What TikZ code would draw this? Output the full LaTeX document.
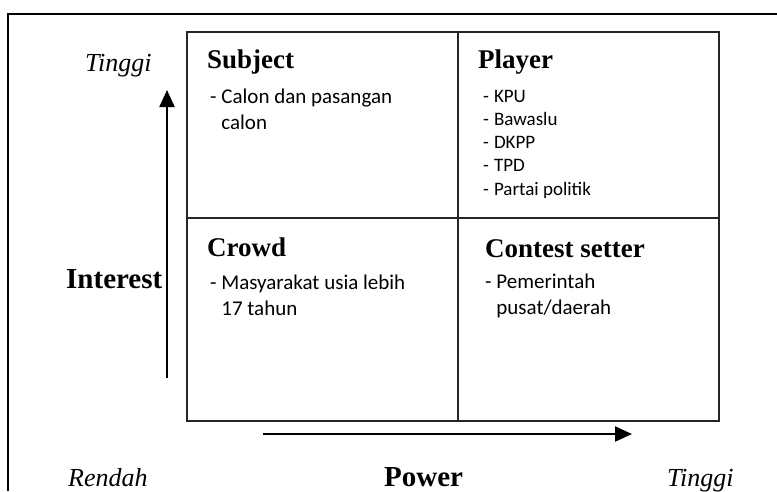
\documentclass[tikz,border=0pt]{standalone}
\usepackage{fontspec}
\setmainfont{Liberation Serif}
\newfontfamily\bodyfont{Carlito}
\usetikzlibrary{arrows.meta}
\begin{document}
\begin{tikzpicture}[x=1pt, y=-1pt,
    cell/.style={draw=black!85, line width=1.6pt, anchor=north west, inner sep=0, outer sep=0},
    head/.style={font=\fontsize{27}{30}\selectfont\bfseries, anchor=base west, inner sep=0},
    axislabel/.style={font=\fontsize{29}{32}\selectfont\bfseries, anchor=base west, inner sep=0},
    endlabel/.style={font=\fontsize{26}{30}\selectfont\itshape, anchor=base west, inner sep=0},
    item/.style={font=\bodyfont\fontsize{21}{26.5}\selectfont, align=left, anchor=base west, inner sep=0},
    smallitem/.style={font=\bodyfont\fontsize{19}{23}\selectfont, anchor=base west, inner sep=0},
    axis/.style={line width=2.2pt, -{Triangle[length=17pt, width=15pt]}}]
\useasboundingbox (0,0) rectangle (777,491);
% outer frame (cut off at the right and bottom)
\draw[line width=1.5pt] (8,491) -- (8,14) -- (777,14);
% the four quadrants
\node[cell, minimum width=271pt, minimum height=186pt] (subject) at (187,32) {};
\node[cell, minimum width=261pt, minimum height=186pt] (player) at (458,32) {};
\node[cell, minimum width=271pt, minimum height=203pt] (crowd) at (187,218) {};
\node[cell, minimum width=261pt, minimum height=203pt] (setter) at (458,218) {};
\node[head] (subjecthead) at (207,68) {Subject};
\node[head] (playerhead) at (478,68) {Player};
\node[head] (crowdhead) at (207,256) {Crowd};
\node[head] (setterhead) at (485,257) {Contest setter};
% base of a two-line node sits on its last line
\node[item] (subjecttext) at (210,129.5) {- Calon dan pasangan\\\phantom{- }calon};
\node[item] (crowdtext) at (210,315.5) {- Masyarakat usia lebih\\\phantom{- }17 tahun};
\node[item] (settertext) at (485,314.5) {- Pemerintah\\\phantom{- }pusat/daerah};
\foreach \name [count=\i from 0] in {KPU, Bawaslu, DKPP, TPD, Partai politik}
    \node[smallitem] (player\i) at (483,102+23.3*\i) {-\hspace{5pt}\name};
% axes
\coordinate (ylow) at (167,378);
\coordinate (yhigh) at (167,90);
\coordinate (xlow) at (263,434);
\coordinate (xhigh) at (632,434);
\draw[axis] (ylow) -- (yhigh);
\draw[axis] (xlow) -- (xhigh);
\node[endlabel] (ytop) at (85,71) {Tinggi};
\node[axislabel] (interest) at (66,288) {Interest};
\node[endlabel] (rendah) at (68,486) {Rendah};
\node[axislabel] (power) at (384,486) {Power};
\node[endlabel] (xtop) at (667,486) {Tinggi};
\end{tikzpicture}
\end{document}
